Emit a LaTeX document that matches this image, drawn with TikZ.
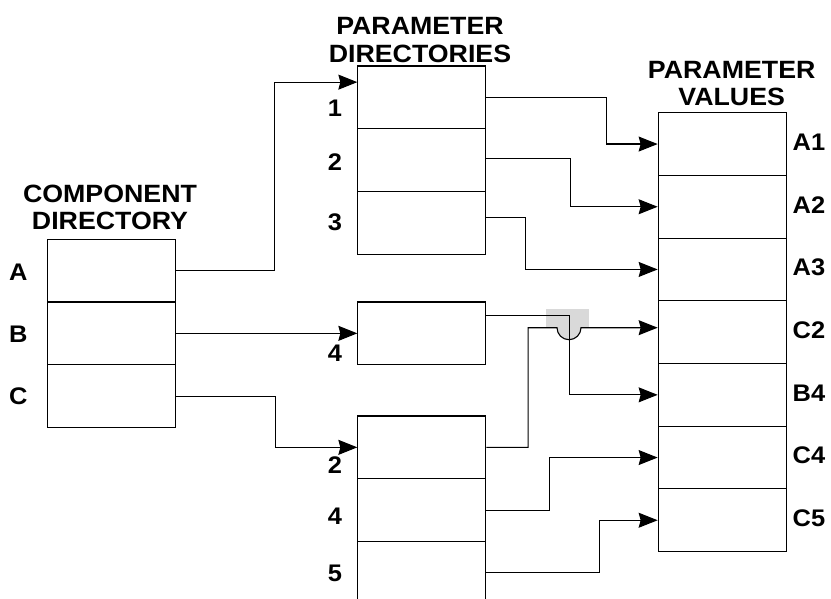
\documentclass[tikz,border=0pt]{standalone}
\usepackage{fontspec}
\setmainfont{Liberation Sans}
\usetikzlibrary{arrows.meta}

\tikzset{
  cell/.style={draw,rectangle,minimum width=128pt,minimum height=62.7pt,inner sep=0pt,line width=1.1pt},
  link/.style={line width=1.1pt,-{Stealth[length=19pt,width=15pt,inset=2pt]}},
  lbl/.style={font=\fontsize{24}{27}\selectfont\bfseries,inner sep=0pt,xscale=1.06},
  heading/.style={font=\fontsize{25}{27.5}\selectfont\bfseries,align=center,inner sep=0pt,xscale=1.07},
  hopshade/.style={fill=black!15}
}

\begin{document}
\begin{tikzpicture}[x=1pt,y=-1pt]

\useasboundingbox (0,0) rectangle (831,599);

% headings
\node (h-comp) at (110,207.4) [heading] {COMPONENT\\DIRECTORY};
\node (h-pdir) at (420,39.9) [heading] {PARAMETER\\DIRECTORIES};
\node (h-pval) at (731.7,83.4) [heading] {PARAMETER\\VALUES};

% component directory
\node (comp-A) at (111.7,270.65) [cell] {};
\node (comp-B) at (111.7,333.35) [cell] {};
\node (comp-C) at (111.7,396.05) [cell] {};

\node (l-A) at (18.3,272) [lbl] {A};
\node (l-B) at (18.3,334) [lbl] {B};
\node (l-C) at (18.3,396) [lbl] {C};

% parameter directories
\node (pd-1) at (421.9,97.35) [cell] {};
\node (pd-2) at (421.9,160.05) [cell] {};
\node (pd-3) at (421.9,222.75) [cell] {};

\node (pd-4) at (421.9,333.35) [cell] {};

\node (pd-c2) at (421.9,447.35) [cell] {};
\node (pd-c4) at (421.9,510.05) [cell] {};
\node (pd-c5) at (421.9,572.75) [cell] {};

\node (l-1) at (335,108) [lbl] {1};
\node (l-2) at (335,162) [lbl] {2};
\node (l-3) at (335,222) [lbl] {3};
\node (l-4) at (335,353) [lbl] {4};
\node (l-c2) at (335,465) [lbl] {2};
\node (l-c4) at (335,516) [lbl] {4};
\node (l-c5) at (335,573) [lbl] {5};

% parameter values
\node (pv-A1) at (722.2,144.05) [cell] {};
\node (pv-A2) at (722.2,206.75) [cell] {};
\node (pv-A3) at (722.2,269.45) [cell] {};
\node (pv-C2) at (722.2,332.15) [cell] {};
\node (pv-B4) at (722.2,394.85) [cell] {};
\node (pv-C4) at (722.2,457.55) [cell] {};
\node (pv-C5) at (722.2,520.25) [cell] {};

\node (l-A1) at (809,142) [lbl] {A1};
\node (l-A2) at (809,204.7) [lbl] {A2};
\node (l-A3) at (809,267.4) [lbl] {A3};
\node (l-C2) at (809,330.1) [lbl] {C2};
\node (l-B4) at (809,392.8) [lbl] {B4};
\node (l-C4) at (809,455.5) [lbl] {C4};
\node (l-C5) at (809,518.2) [lbl] {C5};

% line hop
\coordinate (hop) at (569,327.7);
\fill[hopshade] (546,309) rectangle (589,327.7);
\fill[hopshade] ([xshift=-12pt]hop) arc[start angle=180,end angle=360,radius=12pt] -- cycle;

% component -> directories
\draw[link] (comp-A.east) -- ++(98,0) |- ([yshift=-16.7pt]pd-1.north west);
\draw[link] (comp-B.east) -- (pd-4.west);
\draw[link] (comp-C.east) -- ++(99,0) |- (pd-c2.west);

% directories -> values
\draw[link] (pd-1.east) -- ++(119.7,0) |- (pv-A1.west);
\draw[link] ([yshift=1.3pt]pd-2.east) -- ++(84.3,0) |- (pv-A2.west);
\draw[link] ([yshift=5pt]pd-3.east) -- ++(39,0) |- (pv-A3.west);
\draw[link] ([yshift=-14.3pt]pd-4.north east) -- ++(83,0) |- (pv-B4.west);
\draw[link] (pd-c2.east) -- ++(41.7,0) |- ([xshift=-12pt]hop)
  arc[start angle=180,end angle=360,radius=12pt] -- (hop -| pv-C2.west);
\draw[link] (pd-c4.east) -- ++(62.7,0) |- (pv-C4.west);
\draw[link] (pd-c5.east) -- ++(113.3,0) |- (pv-C5.west);

\end{tikzpicture}
\end{document}
